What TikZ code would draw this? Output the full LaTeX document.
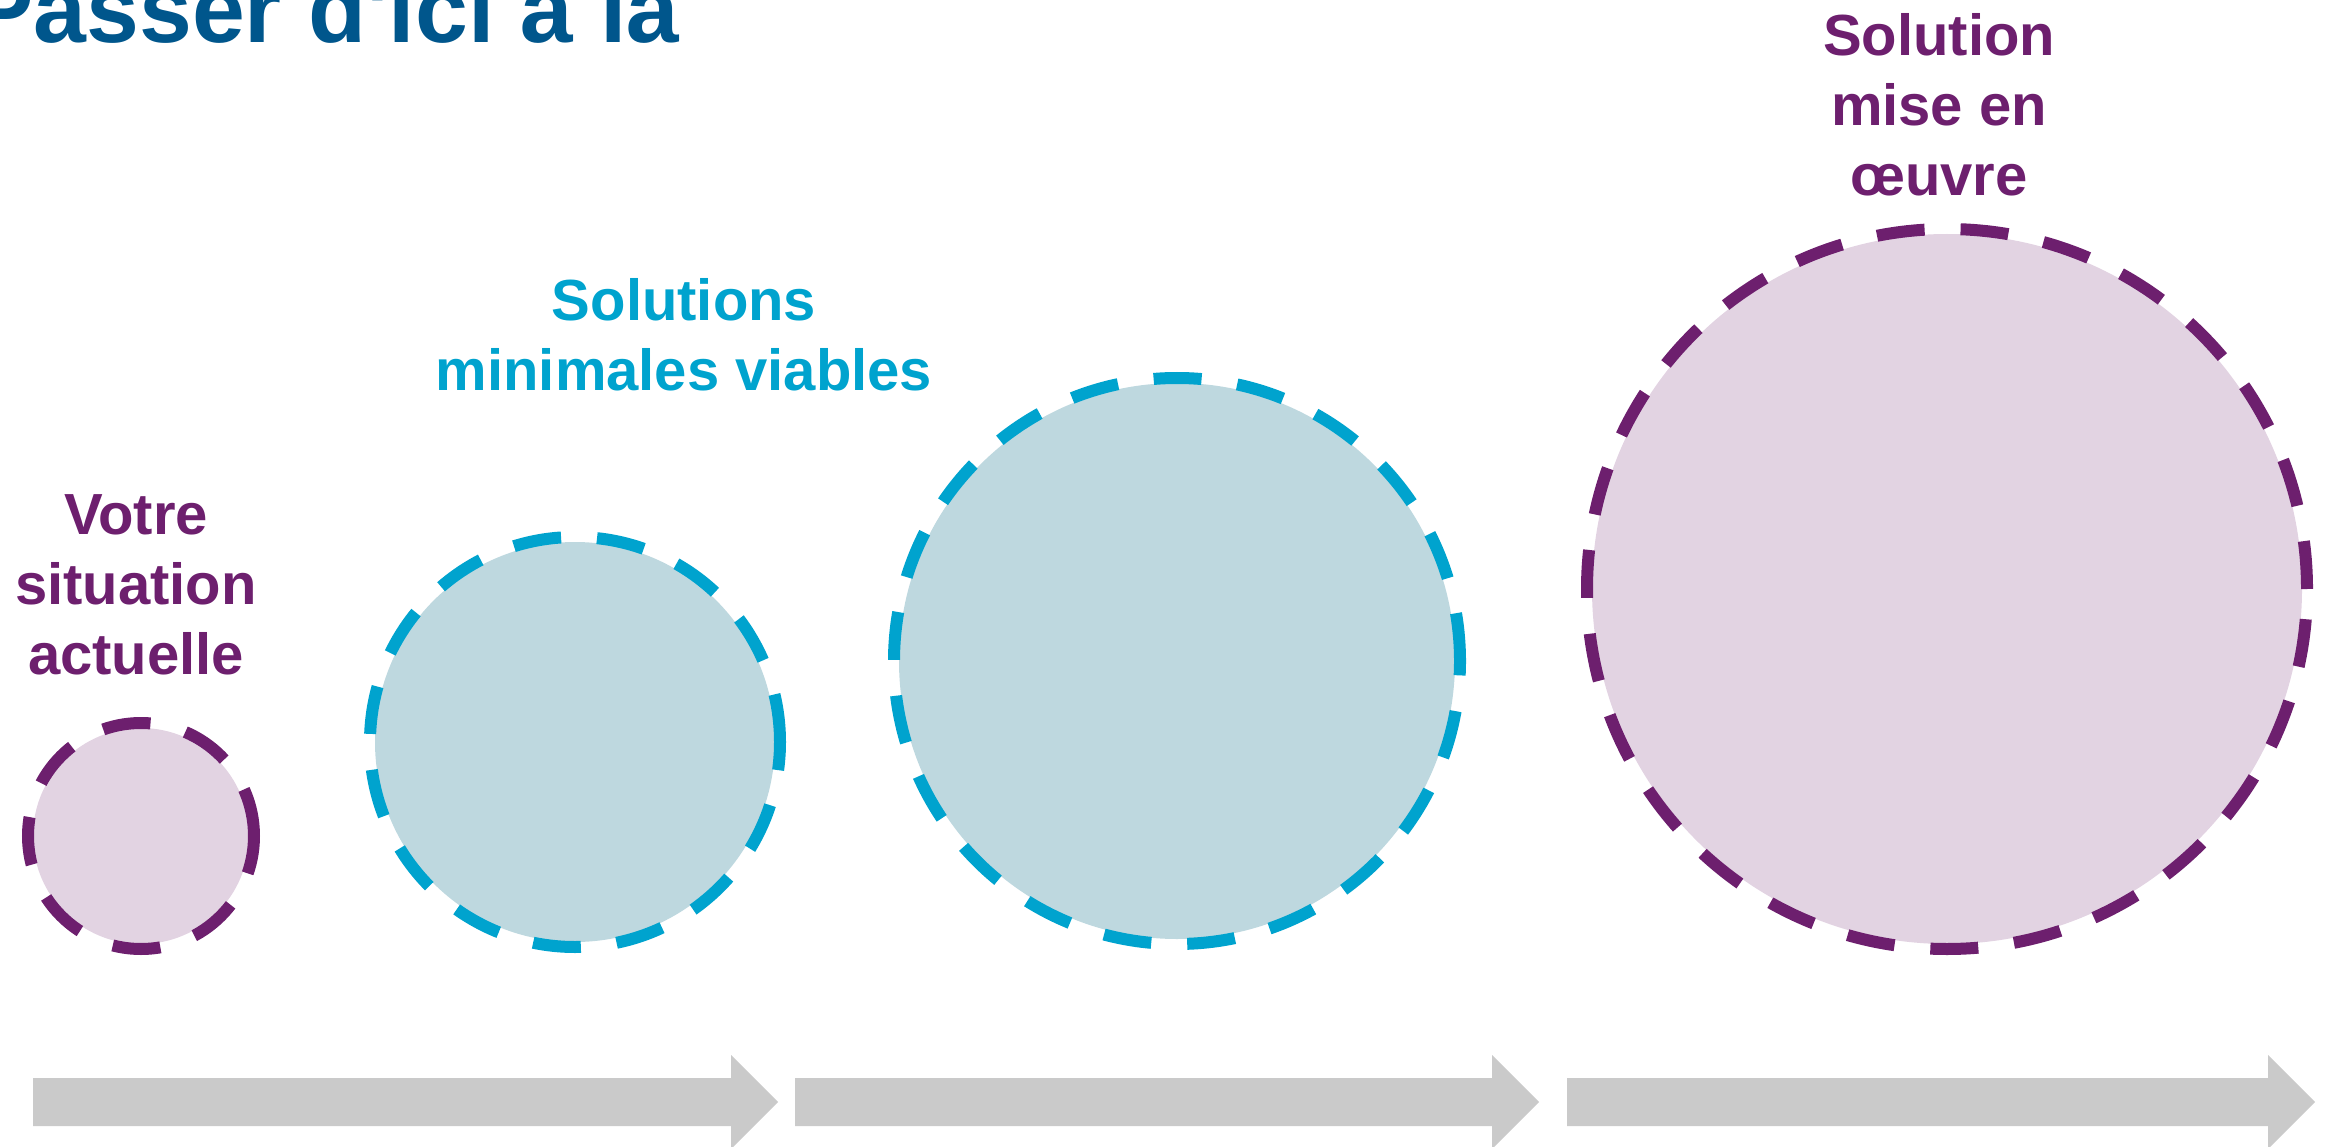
\documentclass[tikz,border=0pt]{standalone}
\usepackage{fontspec}
\setmainfont{Liberation Sans}
\newfontfamily\titlefont{Liberation Sans}
\definecolor{pstroke}{HTML}{6D1F6E}
\definecolor{pfill}{HTML}{E2D3E2}
\definecolor{bstroke}{HTML}{00A3CE}
\definecolor{bfill}{HTML}{BED8DF}
\definecolor{titleblue}{HTML}{00568C}
\definecolor{arrowgray}{HTML}{CACACA}
\begin{document}
\begin{tikzpicture}[x=1pt,y=-1pt,
  ring/.style={circle, inner sep=0pt, outer sep=0pt, line width=12pt, dash pattern=on 48pt off 36pt},
  pring/.style={ring, draw=pstroke},
  bring/.style={ring, draw=bstroke},
  lbl/.style={inner sep=0pt, outer sep=0pt, align=center, anchor=north, font=\bfseries\fontsize{58}{70}\selectfont},
  bigarrow/.style={fill=arrowgray}
]
\useasboundingbox (0,0) rectangle (2331,1147);
% title
\node[anchor=base west, inner sep=0pt, text=titleblue, font=\titlefont\bfseries\fontsize{95}{110}\selectfont] (title) at (-30,43) {Passer d'ici à là};
% circles
\fill[pfill] (141,836) circle (108);
\node[pring, minimum size=226pt] (c1) at (141,836) {};
\fill[bfill] (575,742) circle (200);
\node[bring, minimum size=410pt] (c2) at (575,742) {};
\fill[bfill] (1177,661) circle (278);
\node[bring, minimum size=566pt] (c3) at (1177,661) {};
\fill[pfill] (1947,589) circle (355);
\node[pring, minimum size=720pt] (c4) at (1947,589) {};
% labels
\node[lbl, text=pstroke] (l1) at (136,495) {Votre\\situation\\actuelle};
\node[lbl, text=bstroke] (l2) at (684,278) {Solutions\\minimales viables};
\node[lbl, text=pstroke] (l3) at (1939,13) {Solution\\mise en\\œuvre};
% arrows
\path[bigarrow] (33,1078) -- (731,1078) -- (731,1055) -- (778,1102) -- (731,1149) -- (731,1126) -- (33,1126) -- cycle;
\path[bigarrow] (795,1078) -- (1492,1078) -- (1492,1055) -- (1539,1102) -- (1492,1149) -- (1492,1126) -- (795,1126) -- cycle;
\path[bigarrow] (1567,1078) -- (2268,1078) -- (2268,1055) -- (2315,1102) -- (2268,1149) -- (2268,1126) -- (1567,1126) -- cycle;
\end{tikzpicture}
\end{document}
